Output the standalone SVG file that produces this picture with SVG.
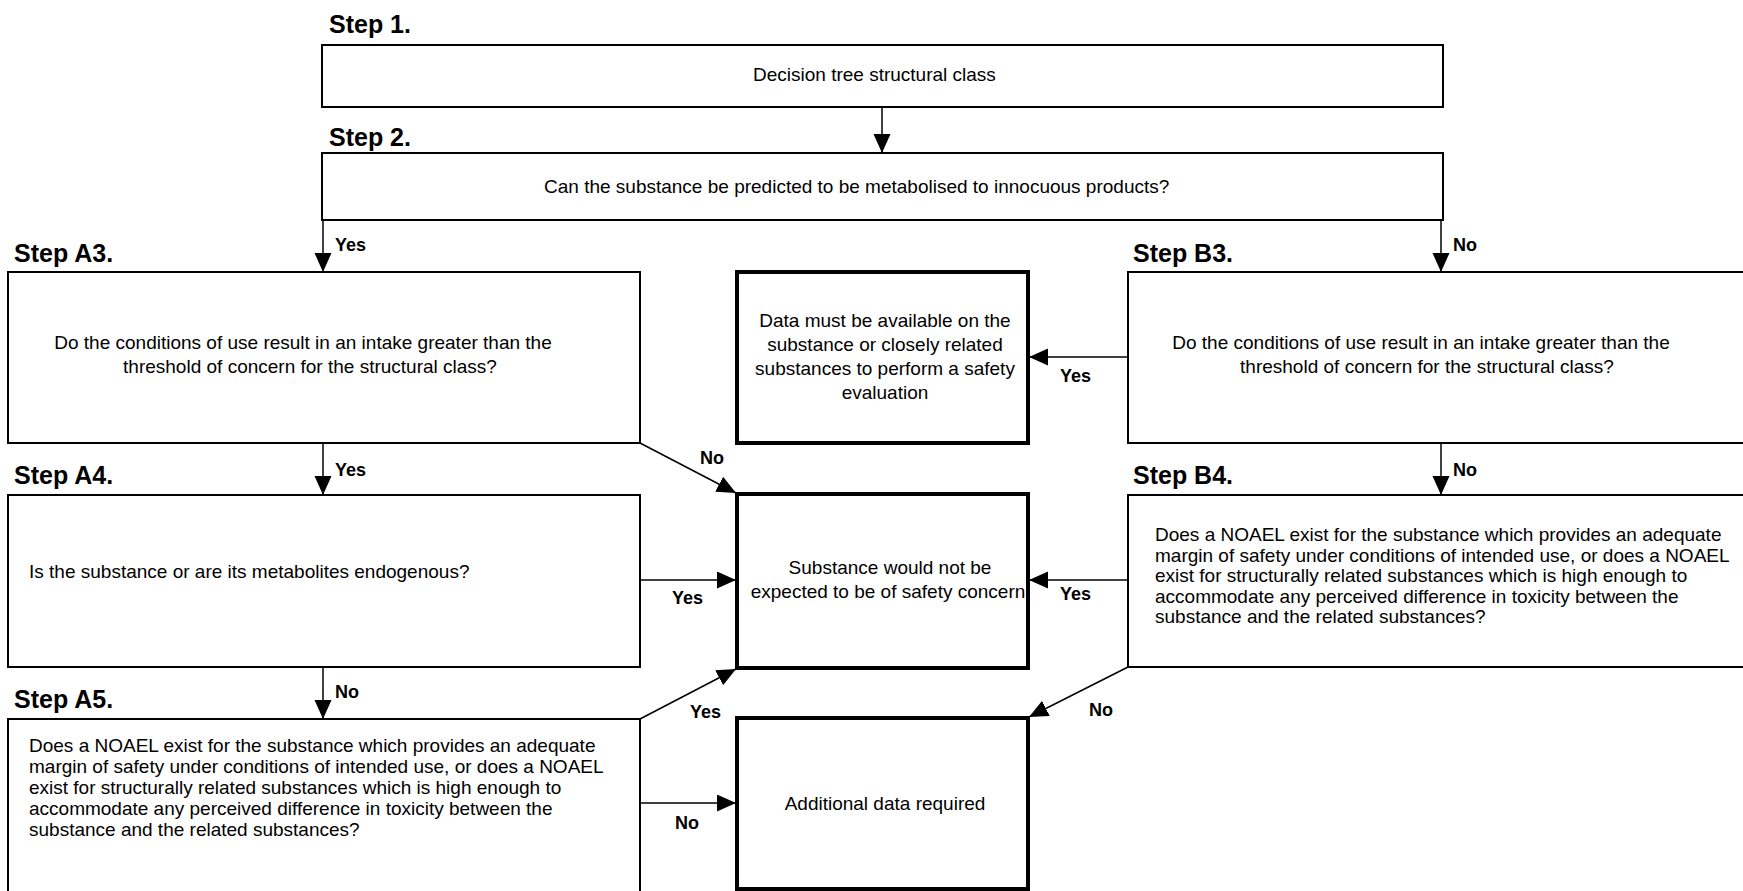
<svg xmlns="http://www.w3.org/2000/svg" width="1743" height="891" viewBox="0 0 1743 891">
  <style>
    .box { fill: #ffffff; stroke: #000000; stroke-width: 2; }
    .thick { fill: #ffffff; stroke: #000000; stroke-width: 4; }
    .step { font-family: "Liberation Sans", Arial, sans-serif; font-weight: bold; font-size: 25px; fill: #000; }
    .txt { font-family: "Liberation Sans", Arial, sans-serif; font-size: 19px; fill: #000; }
    .mid { text-anchor: middle; }
    .lbl { font-family: "Liberation Sans", Arial, sans-serif; font-weight: bold; font-size: 18px; fill: #000; }
    .conn { stroke: #000000; stroke-width: 1.5; fill: none; marker-end: url(#arrow); }
  </style>
  <defs>
    <marker id="arrow" markerUnits="userSpaceOnUse" markerWidth="20" markerHeight="18" refX="19" refY="8.5" orient="auto">
      <path d="M0,0 L19,8.5 L0,17 z" fill="#000"/>
    </marker>
  </defs>
  <rect width="1743" height="891" fill="#ffffff"/>

  <g id="step1">
    <text class="step" x="329" y="33">Step 1.</text>
    <rect class="box" x="322" y="45" width="1121" height="62"/>
    <text class="txt" x="753" y="81">Decision tree structural class</text>
  </g>

  <g id="step2">
    <text class="step" x="329" y="146">Step 2.</text>
    <rect class="box" x="322" y="153" width="1121" height="67"/>
    <text class="txt" x="544" y="193">Can the substance be predicted to be metabolised to innocuous products?</text>
  </g>

  <g id="stepA3">
    <text class="step" x="14" y="262">Step A3.</text>
    <rect class="box" x="8" y="272" width="632" height="171"/>
    <text class="txt mid" x="303" y="349">Do the conditions of use result in an intake greater than the</text>
    <text class="txt mid" x="310" y="373">threshold of concern for the structural class?</text>
  </g>

  <g id="stepA4">
    <text class="step" x="14" y="484">Step A4.</text>
    <rect class="box" x="8" y="495" width="632" height="172"/>
    <text class="txt" x="29" y="578">Is the substance or are its metabolites endogenous?</text>
  </g>

  <g id="stepA5">
    <text class="step" x="14" y="708">Step A5.</text>
    <rect class="box" x="8" y="719" width="632" height="200"/>
    <text class="txt" x="29" y="752">Does a NOAEL exist for the substance which provides an adequate</text>
    <text class="txt" x="29" y="773">margin of safety under conditions of intended use, or does a NOAEL</text>
    <text class="txt" x="29" y="794">exist for structurally related substances which is high enough to</text>
    <text class="txt" x="29" y="815">accommodate any perceived difference in toxicity between the</text>
    <text class="txt" x="29" y="836">substance and the related substances?</text>
  </g>

  <g id="stepB3">
    <text class="step" x="1133" y="262">Step B3.</text>
    <rect class="box" x="1128" y="272" width="640" height="171"/>
    <text class="txt mid" x="1421" y="349">Do the conditions of use result in an intake greater than the</text>
    <text class="txt mid" x="1427" y="373">threshold of concern for the structural class?</text>
  </g>

  <g id="stepB4">
    <text class="step" x="1133" y="484">Step B4.</text>
    <rect class="box" x="1128" y="495" width="640" height="172"/>
    <text class="txt" x="1155" y="541">Does a NOAEL exist for the substance which provides an adequate</text>
    <text class="txt" x="1155" y="562">margin of safety under conditions of intended use, or does a NOAEL</text>
    <text class="txt" x="1155" y="582">exist for structurally related substances which is high enough to</text>
    <text class="txt" x="1155" y="603">accommodate any perceived difference in toxicity between the</text>
    <text class="txt" x="1155" y="623">substance and the related substances?</text>
  </g>

  <g id="dataAvailable">
    <rect class="thick" x="737" y="272" width="291" height="171"/>
    <text class="txt mid" x="885" y="327">Data must be available on the</text>
    <text class="txt mid" x="885" y="351">substance or closely related</text>
    <text class="txt mid" x="885" y="375">substances to perform a safety</text>
    <text class="txt mid" x="885" y="399">evaluation</text>
  </g>

  <g id="noConcern">
    <rect class="thick" x="737" y="494" width="291" height="174"/>
    <text class="txt mid" x="890" y="574">Substance would not be</text>
    <text class="txt mid" x="888" y="598">expected to be of safety concern</text>
  </g>

  <g id="additionalData">
    <rect class="thick" x="737" y="718" width="291" height="171"/>
    <text class="txt mid" x="885" y="810">Additional data required</text>
  </g>

  <g id="connectors">
    <line class="conn" x1="882" y1="107" x2="882" y2="153"/>
    <line class="conn" x1="323" y1="220" x2="323" y2="272"/>
    <line class="conn" x1="1441" y1="220" x2="1441" y2="272"/>
    <line class="conn" x1="323" y1="443" x2="323" y2="495"/>
    <line class="conn" x1="323" y1="667" x2="323" y2="719"/>
    <line class="conn" x1="1441" y1="443" x2="1441" y2="495"/>
    <line class="conn" x1="640" y1="443" x2="736" y2="493"/>
    <line class="conn" x1="640" y1="580" x2="736" y2="580"/>
    <line class="conn" x1="640" y1="719" x2="736" y2="669"/>
    <line class="conn" x1="640" y1="803" x2="736" y2="803"/>
    <line class="conn" x1="1128" y1="357" x2="1029" y2="357"/>
    <line class="conn" x1="1128" y1="580" x2="1029" y2="580"/>
    <line class="conn" x1="1128" y1="667" x2="1029" y2="717"/>

    <text class="lbl" x="335" y="251">Yes</text>
    <text class="lbl" x="1453" y="251">No</text>
    <text class="lbl" x="335" y="476">Yes</text>
    <text class="lbl" x="700" y="464">No</text>
    <text class="lbl" x="335" y="698">No</text>
    <text class="lbl" x="1453" y="476">No</text>
    <text class="lbl" x="1060" y="382">Yes</text>
    <text class="lbl" x="672" y="604">Yes</text>
    <text class="lbl" x="1060" y="600">Yes</text>
    <text class="lbl" x="690" y="718">Yes</text>
    <text class="lbl" x="1089" y="716">No</text>
    <text class="lbl" x="675" y="829">No</text>
  </g>
</svg>
